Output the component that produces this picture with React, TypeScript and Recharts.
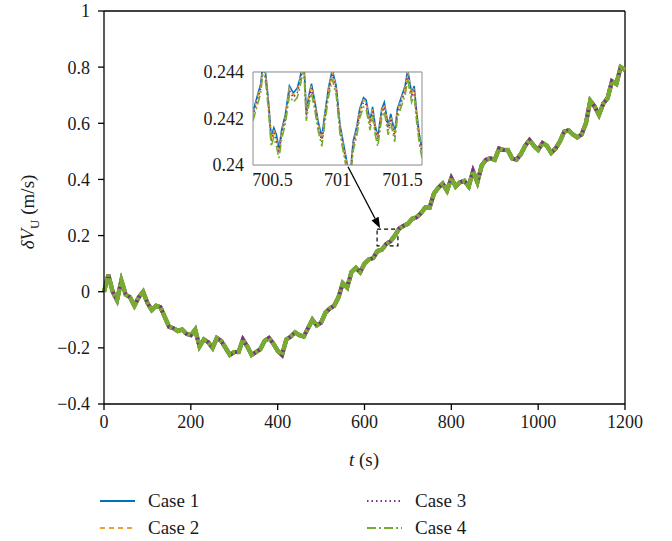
import { LineChart, Line, XAxis, YAxis, ReferenceLine, ReferenceArea, CartesianGrid } from "recharts";

// main trace, sampled every 10 s (all four cases overlap at this scale)
const mainTime = [
  0, 10, 20, 30, 40, 50, 60, 70, 80, 90, 100, 110, 120, 130, 140, 150, 160, 170, 180, 190,
  200, 210, 220, 230, 240, 250, 260, 270, 280, 290, 300, 310, 320, 330, 340, 350, 360, 370, 380, 390,
  400, 410, 420, 430, 440, 450, 460, 470, 480, 490, 500, 510, 520, 530, 540, 550, 560, 570, 580, 590,
  600, 610, 620, 630, 640, 650, 660, 670, 680, 690, 700, 710, 720, 730, 740, 750, 760, 770, 780, 790,
  800, 810, 820, 830, 840, 850, 860, 870, 880, 890, 900, 910, 920, 930, 940, 950, 960, 970, 980, 990,
  1000, 1010, 1020, 1030, 1040, 1050, 1060, 1070, 1080, 1090, 1100, 1110, 1120, 1130, 1140, 1150, 1160, 1170, 1180, 1190,
  1200,
];
const mainValues = [
  0.0, 0.06, 0.0, -0.03, 0.04, -0.01, -0.02, -0.05, -0.02, 0.0, -0.04, -0.065, -0.05, -0.055, -0.09, -0.125, -0.13, -0.14, -0.135, -0.15,
  -0.155, -0.135, -0.195, -0.17, -0.18, -0.2, -0.165, -0.175, -0.2, -0.225, -0.215, -0.215, -0.17, -0.195, -0.225, -0.215, -0.205, -0.175, -0.165, -0.185,
  -0.21, -0.225, -0.17, -0.16, -0.145, -0.155, -0.16, -0.13, -0.1, -0.12, -0.11, -0.075, -0.06, -0.05, -0.02, 0.03, 0.015, 0.07, 0.085, 0.07,
  0.1, 0.115, 0.12, 0.145, 0.15, 0.17, 0.18, 0.2, 0.225, 0.235, 0.242, 0.26, 0.265, 0.28, 0.3, 0.3, 0.35, 0.37, 0.385, 0.36,
  0.405, 0.375, 0.39, 0.395, 0.375, 0.43, 0.39, 0.45, 0.47, 0.475, 0.47, 0.51, 0.505, 0.505, 0.475, 0.47, 0.49, 0.52, 0.54, 0.52,
  0.505, 0.53, 0.52, 0.495, 0.51, 0.535, 0.57, 0.575, 0.56, 0.55, 0.56, 0.6, 0.68, 0.66, 0.63, 0.67, 0.69, 0.75, 0.74, 0.8,
  0.79,
];
const mainTicksX = [0, 200, 400, 600, 800, 1000, 1200];
const mainTicksY = [-0.4, -0.2, 0, 0.2, 0.4, 0.6, 0.8, 1];

// zoomed window around t = 701 s
const insetTime = [
  700.35, 700.38, 700.41, 700.43, 700.45, 700.47, 700.49, 700.51, 700.53, 700.55, 700.57,
  700.6, 700.63, 700.66, 700.69, 700.71, 700.74, 700.76, 700.78, 700.8, 700.83, 700.85, 700.88, 700.9, 700.93, 700.96, 700.99,
  701.02, 701.05, 701.08, 701.1, 701.12, 701.15, 701.17, 701.2, 701.22, 701.25, 701.27, 701.29, 701.31,
  701.34, 701.36, 701.39, 701.41, 701.44, 701.46, 701.49, 701.52, 701.54, 701.57, 701.59, 701.61, 701.63, 701.65,
];
const insetCase1 = [
  0.2423, 0.2429, 0.2435, 0.2446, 0.2438, 0.2427, 0.2412, 0.2416, 0.2413, 0.2407, 0.2415, 0.2422, 0.2434, 0.2431, 0.2433, 0.2437, 0.2446, 0.2423,
  0.243, 0.2435, 0.2426, 0.2419, 0.2412, 0.2421, 0.2433, 0.2441, 0.2434, 0.2417, 0.2408, 0.2399, 0.2397, 0.241, 0.2417, 0.2424, 0.2429, 0.2428,
  0.2419, 0.2425, 0.2417, 0.2412, 0.2424, 0.2427, 0.2417, 0.2422, 0.2414, 0.2424, 0.2429, 0.2434, 0.2441, 0.2431, 0.2434, 0.2422, 0.2413, 0.2407,
];
const insetCase2 = [
  0.2422, 0.2428, 0.2434, 0.2445, 0.2437, 0.2426, 0.2411, 0.2415, 0.2411, 0.2406, 0.2414, 0.2421, 0.2433, 0.243, 0.2432, 0.2436, 0.2445, 0.2422,
  0.2429, 0.2434, 0.2425, 0.2418, 0.2411, 0.242, 0.2432, 0.244, 0.2433, 0.2416, 0.2407, 0.2398, 0.2396, 0.2409, 0.2416, 0.2423, 0.2428, 0.2427,
  0.2418, 0.2424, 0.2416, 0.2411, 0.2423, 0.2426, 0.2416, 0.2421, 0.2413, 0.2423, 0.2428, 0.2433, 0.244, 0.243, 0.2433, 0.2421, 0.2412, 0.2406,
];
const insetCase3 = [
  0.2421, 0.2427, 0.2433, 0.2444, 0.2436, 0.2425, 0.241, 0.2414, 0.2411, 0.2405, 0.2413, 0.242, 0.2432, 0.2429, 0.2431, 0.2435, 0.2444, 0.2421,
  0.2428, 0.2433, 0.2424, 0.2417, 0.241, 0.2419, 0.2431, 0.2439, 0.2432, 0.2415, 0.2406, 0.2397, 0.2395, 0.2408, 0.2415, 0.2422, 0.2427, 0.2426,
  0.2417, 0.2423, 0.2415, 0.241, 0.2422, 0.2425, 0.2415, 0.242, 0.2412, 0.2422, 0.2427, 0.2432, 0.2439, 0.2429, 0.2432, 0.242, 0.2411, 0.2405,
];
const insetCase4 = [
  0.2419, 0.2425, 0.2431, 0.2442, 0.2434, 0.2423, 0.2408, 0.2412, 0.2408, 0.2403, 0.2411, 0.2418, 0.243, 0.2427, 0.2429, 0.2433, 0.2442, 0.2419,
  0.2426, 0.2431, 0.2422, 0.2415, 0.2408, 0.2417, 0.2429, 0.2437, 0.243, 0.2413, 0.2404, 0.2395, 0.2393, 0.2406, 0.2413, 0.242, 0.2425, 0.2424,
  0.2415, 0.2421, 0.2413, 0.2408, 0.242, 0.2423, 0.2413, 0.2418, 0.241, 0.242, 0.2425, 0.243, 0.2437, 0.2427, 0.243, 0.2418, 0.2409, 0.2403,
];
const insetTicksX = [700.5, 701, 701.5];
const insetTicksY = [0.24, 0.242, 0.244];

const cases = [
  { key: "c1", name: "Case 1", color: "#0072BD", dash: undefined as string | undefined },
  { key: "c2", name: "Case 2", color: "#E8A530", dash: "5 4" },
  { key: "c3", name: "Case 3", color: "#7E2F8E", dash: "1.5 3" },
  { key: "c4", name: "Case 4", color: "#77AC30", dash: "9 3 2 3" },
];

const mainData = mainTime.map((t, i) => ({ t, v: mainValues[i] }));
const insetData = insetTime.map((t, i) => ({
  t,
  c1: insetCase1[i],
  c2: insetCase2[i],
  c3: insetCase3[i],
  c4: insetCase4[i],
}));

const FONT = '"Liberation Serif", "Times New Roman", serif';
const tickStyle = { fill: "#1a1a1a", fontSize: 18 };

const fmtMain = (v: number) => (v < 0 ? "\u2212" + Math.abs(v) : String(v));

// leader arrow from inset to the marked window
const Arrow = (p: any) => {
  const { x1, y1, x2, y2 } = p;
  const a = Math.atan2(y2 - y1, x2 - x1);
  const L = 11;
  const W = 4;
  const bx = x2 - L * Math.cos(a);
  const by = y2 - L * Math.sin(a);
  const pts = `${x2},${y2} ${bx + W * Math.sin(a)},${by - W * Math.cos(a)} ${bx - W * Math.sin(a)},${by + W * Math.cos(a)}`;
  return (
    <g>
      <line x1={x1} y1={y1} x2={bx} y2={by} stroke="#000" strokeWidth={1.3} />
      <polygon points={pts} fill="#000" />
    </g>
  );
};

const Legend = () => (
  <div style={{ position: "absolute", left: 100, top: 489, fontSize: 19, color: "#1a1a1a" }}>
    {cases.map((c, i) => (
      <div
        key={c.key}
        style={{
          position: "absolute",
          left: i < 2 ? 0 : 267,
          top: (i % 2) * 27,
          display: "flex",
          alignItems: "center",
          whiteSpace: "nowrap",
        }}
      >
        <svg width={36} height={24}>
          <line x1={0} y1={12} x2={35} y2={12} stroke={c.color} strokeWidth={2} strokeDasharray={c.dash} />
        </svg>
        <span style={{ marginLeft: 12 }}>{c.name}</span>
      </div>
    ))}
  </div>
);

export default function App() {
  return (
    <div
      style={{
        position: "relative",
        width: 672,
        height: 541,
        background: "#fff",
        overflow: "hidden",
        fontFamily: FONT,
      }}
    >
      <style>{`body{margin:0} .recharts-text{font-family:${FONT}}`}</style>
      <LineChart width={672} height={440} data={mainData} margin={{ top: 11, right: 47, left: 0, bottom: 0 }}>
        <XAxis
          dataKey="t"
          type="number"
          domain={[0, 1200]}
          ticks={mainTicksX}
          height={36}
          tick={tickStyle}
          tickSize={6}
          tickMargin={5}
          stroke="#000"
          strokeWidth={1.3}
        />
        <YAxis
          type="number"
          domain={[-0.4, 1]}
          ticks={mainTicksY}
          width={104}
          tick={tickStyle}
          tickSize={6}
          tickMargin={8}
          tickFormatter={fmtMain}
          stroke="#000"
          strokeWidth={1.3}
        />
        <ReferenceLine y={1} stroke="#000" strokeWidth={1.3} />
        <ReferenceLine x={1200} stroke="#000" strokeWidth={1.3} />
        {cases.map((c) => (
          <Line
            key={c.key}
            dataKey="v"
            name={c.name}
            stroke={c.color}
            strokeWidth={c.key === "c4" ? 4.5 : 4}
            strokeDasharray={c.key === "c4" ? "14 2 3 2" : undefined}
            dot={false}
            isAnimationActive={false}
          />
        ))}
        <ReferenceArea x1={629} x2={677} y1={0.163} y2={0.223} fill="none" fillOpacity={0} stroke="#000" strokeWidth={1.2} strokeDasharray="4 3" />
        <ReferenceLine
          segment={[
            { x: 562, y: 0.445 },
            { x: 636, y: 0.226 },
          ]}
          ifOverflow="visible"
          shape={Arrow}
        />
      </LineChart>

      {/* y label */}
      <div
        style={{
          position: "absolute",
          left: 30,
          top: 212,
          transform: "translate(-50%, -50%) rotate(-90deg)",
          fontSize: 19,
          color: "#1a1a1a",
          whiteSpace: "nowrap",
        }}
      >
        <i>δV</i>
        <sub style={{ fontSize: 13 }}>U</sub> (m/s)
      </div>
      {/* x label */}
      <div
        style={{
          position: "absolute",
          left: 364,
          top: 460,
          transform: "translate(-50%, -50%)",
          fontSize: 19,
          color: "#1a1a1a",
          whiteSpace: "nowrap",
        }}
      >
        <i>t</i> (s)
      </div>

      {/* inset */}
      <div style={{ position: "absolute", left: 185, top: 60, width: 245, height: 135 }}>
        <LineChart width={245} height={135} data={insetData} margin={{ top: 12, right: 8, left: 0, bottom: 0 }}>
          <rect x={68} y={12} width={169} height={93} fill="#fff" />
          <CartesianGrid stroke="#e4e4e4" strokeWidth={1} verticalValues={insetTicksX} horizontalValues={insetTicksY} />
          <XAxis
            dataKey="t"
            type="number"
            domain={[700.35, 701.65]}
            ticks={insetTicksX}
            allowDataOverflow
            height={30}
            tick={tickStyle}
            tickLine={false}
            tickSize={0}
            tickMargin={8}
            stroke="#8c8c8c"
          />
          <YAxis
            type="number"
            domain={[0.24, 0.244]}
            ticks={insetTicksY}
            allowDataOverflow
            width={68}
            tick={tickStyle}
            tickLine={false}
            tickSize={0}
            tickMargin={9}
            tickFormatter={(v: number) => String(v)}
            stroke="#8c8c8c"
          />
          <ReferenceLine y={0.244} stroke="#8c8c8c" />
          <ReferenceLine x={701.65} stroke="#8c8c8c" />
          {cases.map((c) => (
            <Line
              key={c.key}
              dataKey={c.key}
              name={c.name}
              stroke={c.color}
              strokeWidth={1.6}
              strokeDasharray={c.dash}
              dot={false}
              isAnimationActive={false}
            />
          ))}
        </LineChart>
      </div>

      <Legend />
    </div>
  );
}
